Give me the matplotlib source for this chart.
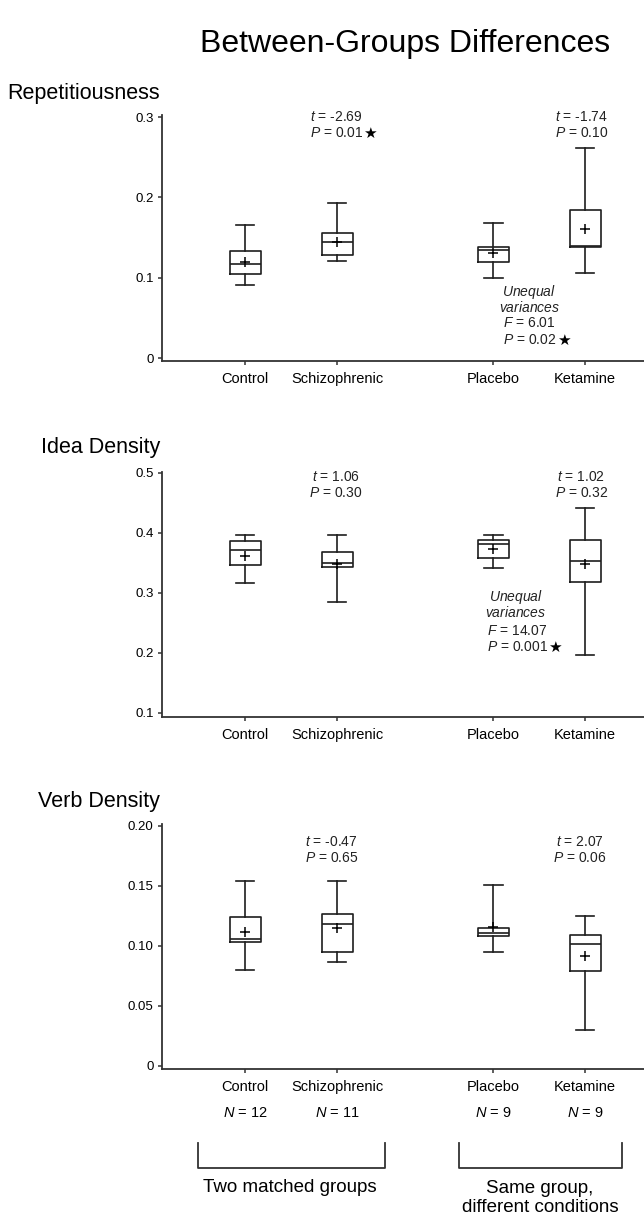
#!/usr/bin/env python3

import matplotlib
matplotlib.use('Agg')
import matplotlib.pyplot as plt
import matplotlib.lines as mlines
import numpy as np

plt.rcParams['font.family'] = ['Liberation Sans', 'DejaVu Sans']
plt.rcParams['mathtext.fontset'] = 'custom'
plt.rcParams['mathtext.rm'] = 'Liberation Sans'
plt.rcParams['mathtext.it'] = 'Liberation Sans:italic'

################################################################################
# data (box = q1/median/q3, whiskers, mean '+')

categories = ['Control', 'Schizophrenic', 'Placebo', 'Ketamine']
group_sizes = [12, 11, 9, 9]
positions = [1.0, 2.0, 3.7, 4.7]

rep_low = [0.091, 0.121, 0.099, 0.106]
rep_q1 = [0.104, 0.128, 0.119, 0.138]
rep_med = [0.117, 0.144, 0.134, 0.139]
rep_q3 = [0.133, 0.156, 0.138, 0.184]
rep_high = [0.165, 0.193, 0.168, 0.262]
rep_mean = [0.119, 0.145, 0.131, 0.161]

idea_low = [0.316, 0.285, 0.341, 0.196]
idea_q1 = [0.346, 0.344, 0.358, 0.318]
idea_med = [0.371, 0.350, 0.382, 0.354]
idea_q3 = [0.386, 0.368, 0.389, 0.388]
idea_high = [0.396, 0.396, 0.396, 0.441]
idea_mean = [0.362, 0.349, 0.374, 0.348]

verb_low = [0.080, 0.087, 0.095, 0.030]
verb_q1 = [0.103, 0.095, 0.108, 0.079]
verb_med = [0.106, 0.118, 0.111, 0.102]
verb_q3 = [0.124, 0.127, 0.115, 0.109]
verb_high = [0.154, 0.154, 0.151, 0.125]
verb_mean = [0.112, 0.115, 0.116, 0.092]

rep_ticks = [0, 0.1, 0.2, 0.3]
rep_ticklabels = ['0', '0.1', '0.2', '0.3']
idea_ticks = [0.1, 0.2, 0.3, 0.4, 0.5]
idea_ticklabels = ['0.1', '0.2', '0.3', '0.4', '0.5']
verb_ticks = [0, 0.05, 0.10, 0.15, 0.20]
verb_ticklabels = ['0', '0.05', '0.10', '0.15', '0.20']

################################################################################

W, H = 644, 1218
INK = '#1e1e1e'
LW = 1.2

def px_rect(left, top, right, bottom):
	'''Pixel box (from top-left) to figure fraction rect.'''
	return [left / W, 1 - bottom / H, (right - left) / W, (bottom - top) / H]

def build_stats(low, q1, med, q3, high, mean):
	return [dict(whislo = a, q1 = b, med = c, q3 = d, whishi = e, mean = f, fliers = [])
	        for a, b, c, d, e, f in zip(low, q1, med, q3, high, mean)]

def add_star(fig, txt):
	'''Put a black star just to the right of a text.'''
	renderer = fig.canvas.get_renderer()
	bb = txt.get_window_extent(renderer)
	x = (bb.x1 + 0.5) / W
	y = (bb.y0 + bb.y1) / 2 / H
	fig.text(x, y, '\u2605', family = 'DejaVu Sans', fontsize = 11,
	         ha = 'left', va = 'center', color = 'black')

fig = plt.figure(figsize = (W / 100, H / 100), dpi = 100)

panels = [
	dict(title = 'Repetitiousness', title_y = 94,
	     rect = (162, 115.4, 644, 361), ylim = (-0.0037, 0.302),
	     stats = build_stats(rep_low, rep_q1, rep_med, rep_q3, rep_high, rep_mean),
	     ticks = rep_ticks, ticklabels = rep_ticklabels),
	dict(title = 'Idea Density', title_y = 448,
	     rect = (162, 471.8, 644, 717), ylim = (0.0933, 0.502),
	     stats = build_stats(idea_low, idea_q1, idea_med, idea_q3, idea_high, idea_mean),
	     ticks = idea_ticks, ticklabels = idea_ticklabels),
	dict(title = 'Verb Density', title_y = 801,
	     rect = (162, 824.2, 644, 1069), ylim = (-0.0025, 0.2015),
	     stats = build_stats(verb_low, verb_q1, verb_med, verb_q3, verb_high, verb_mean),
	     ticks = verb_ticks, ticklabels = verb_ticklabels),
]

axes = []
for p in panels:
	ax = fig.add_axes(px_rect(*p['rect']))
	ax.bxp(p['stats'], positions = positions, widths = 0.34, capwidths = 0.2,
	       showmeans = True, showfliers = False,
	       boxprops = dict(color = INK, linewidth = LW),
	       medianprops = dict(color = INK, linewidth = LW),
	       whiskerprops = dict(color = INK, linewidth = LW),
	       capprops = dict(color = INK, linewidth = LW),
	       meanprops = dict(marker = '+', markersize = 6.5, markeredgewidth = 1.1,
	                        markeredgecolor = 'black', color = 'black'))
	ax.set_xlim(0.094, 5.34)
	ax.set_ylim(*p['ylim'])
	ax.set_yticks(p['ticks'])
	ax.set_yticklabels(p['ticklabels'])
	ax.set_xticks(positions)
	ax.set_xticklabels(categories)
	for side in ('top', 'right'):
		ax.spines[side].set_visible(False)
	for side in ('left', 'bottom'):
		ax.spines[side].set_color('#333333')
		ax.spines[side].set_linewidth(1.3)
	ax.tick_params(axis = 'y', labelsize = 9.5, length = 3, width = 1.1, pad = 3, color = '#333333')
	ax.tick_params(axis = 'x', labelsize = 10.5, length = 3, width = 1.1, pad = 5, color = '#333333')
	ax.patch.set_alpha(0)
	fig.text(160 / W, 1 - p['title_y'] / H, p['title'], ha = 'right', va = 'center', fontsize = 15.5)
	axes.append(ax)

# sample sizes under the last panel
for pos, n in zip(positions, group_sizes):
	axes[2].annotate(f'$N$ = {n}', xy = (pos, 0), xycoords = ('data', 'axes fraction'),
	                 xytext = (0, -44 * 0.72), textcoords = 'offset points',
	                 ha = 'center', va = 'center', fontsize = 10.5)

# statistics text
TS = 10
stars = []
def stat_block(ax, x, ys, lines, ha = 'center', star = False):
	out = None
	for y, s in zip(ys, lines):
		out = ax.text(x, y, s, ha = ha, va = 'center', fontsize = TS, color = '#222222')
	if star:
		stars.append(out)

stat_block(axes[0], 1.99, [0.300, 0.280], ['$t$ = -2.69', '$P$ = 0.01'], star = True)
stat_block(axes[0], 4.66, [0.300, 0.280], ['$t$ = -1.74', '$P$ = 0.10'])
stat_block(axes[0], 4.09, [0.082, 0.0635], ['$Unequal$', '$variances$'])
stat_block(axes[0], 3.805, [0.0436, 0.0224], ['$F$ = 6.01', '$P$ = 0.02'], ha = 'left', star = True)

stat_block(axes[1], 1.99, [0.494, 0.466], ['$t$ = 1.06', '$P$ = 0.30'])
stat_block(axes[1], 4.66, [0.494, 0.466], ['$t$ = 1.02', '$P$ = 0.32'])
stat_block(axes[1], 3.946, [0.293, 0.267], ['$Unequal$', '$variances$'])
stat_block(axes[1], 3.63, [0.237, 0.210], ['$F$ = 14.07', '$P$ = 0.001'], ha = 'left', star = True)

stat_block(axes[2], 1.94, [0.1867, 0.173], ['$t$ = -0.47', '$P$ = 0.65'])
stat_block(axes[2], 4.64, [0.1867, 0.173], ['$t$ = 2.07', '$P$ = 0.06'])

fig.canvas.draw()
for t in stars:
	add_star(fig, t)

# main title
fig.text(405 / W, 1 - 44 / H, 'Between-Groups Differences', ha = 'center', va = 'center', fontsize = 23)

# brackets and group descriptions
for x0, x1 in [(198, 385), (459, 622)]:
	xs = np.array([x0, x0, x1, x1]) / W
	ys = 1 - np.array([1143, 1168, 1168, 1143]) / H
	fig.add_artist(mlines.Line2D(xs, ys, color = '#333333', linewidth = 1.3,
	                             transform = fig.transFigure))

fig.text(290 / W, 1 - 1187 / H, 'Two matched groups', ha = 'center', va = 'center', fontsize = 13.5)
fig.text(540 / W, 1 - 1198 / H, 'Same group,\ndifferent conditions', ha = 'center', va = 'center',
         fontsize = 13.5, linespacing = 1.15)

fig.savefig('out.png', dpi = 100, facecolor = 'white')
